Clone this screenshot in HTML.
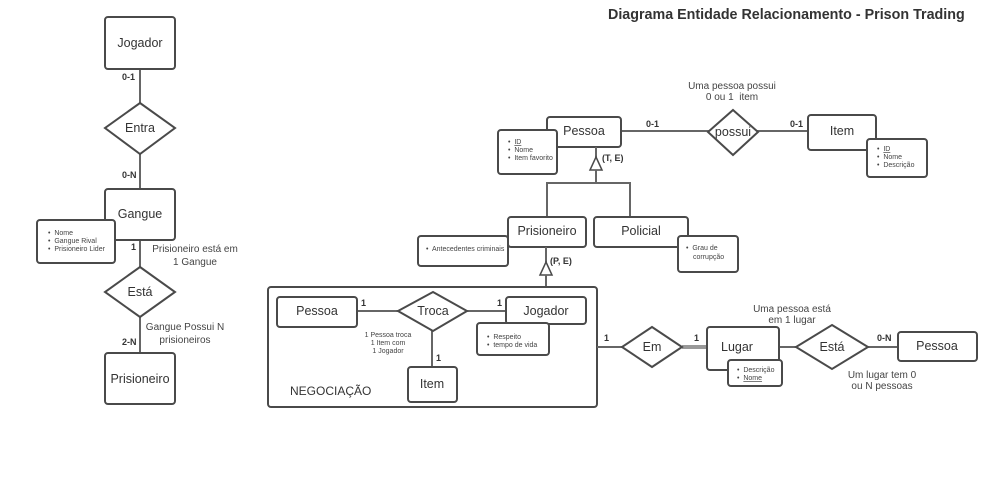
<!DOCTYPE html>
<html><head><meta charset="utf-8"><style>
html,body{margin:0;padding:0;background:#fff;}
svg{display:block;font-family:"Liberation Sans",Arial,sans-serif;}
.b{fill:#fff;stroke:#4a4a4a;stroke-width:2;}
.l{stroke:#666;stroke-width:2;fill:none;}
.t{font-size:12.5px;fill:#333;text-anchor:middle;}
.c{font-size:9px;font-weight:bold;fill:#333;}
.n{font-size:10px;fill:#444;text-anchor:middle;}
.s{font-size:7px;fill:#444;}
</style></head><body>
<svg width="994" height="494" viewBox="0 0 994 494">
<text x="608" y="19" style="font-size:14.3px;font-weight:bold;fill:#333">Diagrama Entidade Relacionamento - Prison Trading</text>

<!-- left column -->
<line class="l" x1="140" y1="69" x2="140" y2="353"/>
<rect class="b" x="105" y="17" width="70" height="52" rx="3"/>
<text class="t" x="140" y="47">Jogador</text>
<text class="c" x="122" y="80">0-1</text>
<polygon class="b" points="140,103 175,128 140,154 105,128"/>
<text class="t" x="140" y="132">Entra</text>
<text class="c" x="122" y="178">0-N</text>
<rect class="b" x="105" y="189" width="70" height="51" rx="3"/>
<text class="t" x="140" y="218">Gangue</text>
<rect class="b" x="37" y="220" width="78" height="43" rx="3"/>
<text class="s" x="48" y="235">•&#160; Nome</text>
<text class="s" x="48" y="243">•&#160; Gangue Rival</text>
<text class="s" x="48" y="251">•&#160; Prisioneiro Lider</text>
<text class="c" x="131" y="250">1</text>
<text class="n" x="195" y="252">Prisioneiro está em</text>
<text class="n" x="195" y="265">1 Gangue</text>
<polygon class="b" points="140,267 175,292 140,317 105,292"/>
<text class="t" x="140" y="296">Está</text>
<text class="n" x="185" y="330">Gangue Possui N</text>
<text class="n" x="185" y="343">prisioneiros</text>
<text class="c" x="122" y="345">2-N</text>
<rect class="b" x="105" y="353" width="70" height="51" rx="3"/>
<text class="t" x="140" y="383">Prisioneiro</text>

<!-- top right -->
<line class="l" x1="621" y1="131" x2="808" y2="131"/>
<text class="c" x="646" y="127">0-1</text>
<text class="c" x="790" y="127">0-1</text>
<text class="n" x="732" y="89">Uma pessoa possui</text>
<text class="n" x="732" y="100">0 ou 1&#160; item</text>
<rect class="b" x="547" y="117" width="74" height="30" rx="3"/>
<text class="t" x="584" y="135">Pessoa</text>
<rect class="b" x="498" y="130" width="59" height="44" rx="3"/>
<text class="s" x="508" y="144">•&#160; <tspan text-decoration="underline">ID</tspan></text>
<text class="s" x="508" y="152">•&#160; Nome</text>
<text class="s" x="508" y="160">•&#160; Item favorito</text>
<polygon class="b" points="733,110 758,132 733,155 708,132"/>
<text class="t" x="733" y="136">possui</text>
<rect class="b" x="808" y="115" width="68" height="35" rx="3"/>
<text class="t" x="842" y="135">Item</text>
<rect class="b" x="867" y="139" width="60" height="38" rx="3"/>
<text class="s" x="877" y="151">•&#160; <tspan text-decoration="underline">ID</tspan></text>
<text class="s" x="877" y="159">•&#160; Nome</text>
<text class="s" x="877" y="167">•&#160; Descrição</text>

<!-- generalization -->
<line class="l" x1="596" y1="147" x2="596" y2="158"/>
<polygon class="b" style="stroke-width:1.5" points="596,157 602,170 590,170"/>
<line class="l" x1="596" y1="170" x2="596" y2="183"/>
<polyline class="l" points="547,217 547,183 630,183 630,217"/>
<text class="c" x="602" y="161">(T, E)</text>
<rect class="b" x="508" y="217" width="78" height="30" rx="3"/>
<text class="t" x="547" y="235">Prisioneiro</text>
<rect class="b" x="418" y="236" width="90" height="30" rx="3"/>
<text class="s" x="426" y="251">•&#160; Antecedentes criminais</text>
<rect class="b" x="594" y="217" width="94" height="30" rx="3"/>
<text class="t" x="641" y="235">Policial</text>
<rect class="b" x="678" y="236" width="60" height="36" rx="3"/>
<text class="s" x="686" y="250">•&#160; Grau de</text>
<text class="s" x="693" y="259">corrupção</text>
<line class="l" x1="546" y1="247" x2="546" y2="262"/>
<polygon class="b" style="stroke-width:1.5" points="546,262 552,275 540,275"/>
<line class="l" x1="546" y1="275" x2="546" y2="297"/>
<text class="c" x="550" y="264">(P, E)</text>

<!-- negociacao -->
<rect class="b" x="268" y="287" width="329" height="120" rx="3"/>
<line class="l" x1="357" y1="311" x2="506" y2="311"/>
<line class="l" x1="432" y1="331" x2="432" y2="367"/>
<rect class="b" x="277" y="297" width="80" height="30" rx="3"/>
<text class="t" x="317" y="315">Pessoa</text>
<text class="c" x="361" y="306">1</text>
<text class="c" x="497" y="306">1</text>
<polygon class="b" points="433,292 467,311 433,331 398,311"/>
<text class="t" x="433" y="315">Troca</text>
<rect class="b" x="506" y="297" width="80" height="27" rx="3"/>
<text class="t" x="546" y="315">Jogador</text>
<rect class="b" x="477" y="323" width="72" height="32" rx="3"/>
<text class="s" x="487" y="339">•&#160; Respeito</text>
<text class="s" x="487" y="347">•&#160; tempo de vida</text>
<text class="s" x="388" y="337" text-anchor="middle">1 Pessoa troca</text>
<text class="s" x="388" y="345" text-anchor="middle">1 Item com</text>
<text class="s" x="388" y="353" text-anchor="middle">1 Jogador</text>
<text class="c" x="436" y="361">1</text>
<rect class="b" x="408" y="367" width="49" height="35" rx="3"/>
<text class="t" x="432" y="388">Item</text>
<text x="290" y="395" style="font-size:12px;fill:#333">NEGOCIAÇÃO</text>

<!-- lugar -->
<line class="l" x1="597" y1="347" x2="622" y2="347"/>
<line x1="682" y1="347" x2="707" y2="347" stroke="#999" stroke-width="4"/>
<line class="l" x1="779" y1="347" x2="898" y2="347"/>
<text class="c" x="604" y="341">1</text>
<text class="c" x="694" y="341">1</text>
<text class="c" x="770" y="341">1</text>
<text class="c" x="877" y="341">0-N</text>
<polygon class="b" points="652,327 682,347 652,367 622,347"/>
<text class="t" x="652" y="351">Em</text>
<rect class="b" x="707" y="327" width="72" height="43" rx="3"/>
<text class="t" x="737" y="351">Lugar</text>
<rect class="b" x="728" y="360" width="54" height="26" rx="3"/>
<text class="s" x="737" y="372">•&#160; Descrição</text>
<text class="s" x="737" y="380">•&#160; <tspan text-decoration="underline">Nome</tspan></text>
<polygon class="b" points="832,325 868,347 832,369 796,347"/>
<text class="t" x="832" y="351">Está</text>
<rect class="b" x="898" y="332" width="79" height="29" rx="3"/>
<text class="t" x="937" y="350">Pessoa</text>
<text class="n" x="792" y="312">Uma pessoa está</text>
<text class="n" x="792" y="323">em 1 lugar</text>
<text class="n" x="882" y="378">Um lugar tem 0</text>
<text class="n" x="882" y="389">ou N pessoas</text>
</svg>
</body></html>
